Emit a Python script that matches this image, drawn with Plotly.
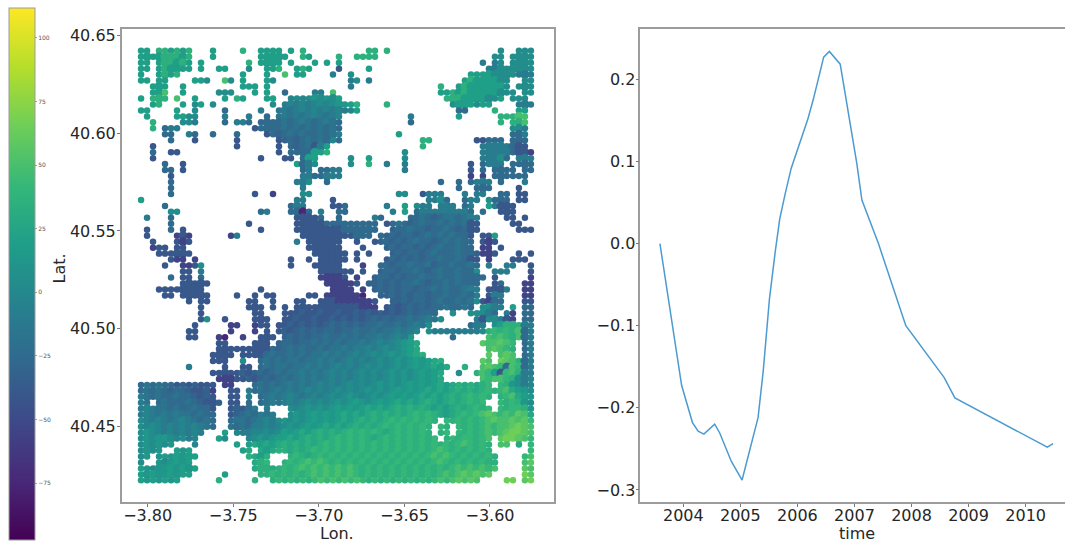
import plotly.graph_objects as go

# --- line panel -----------------------------------------------------------
time_years = [2003.59, 2003.77, 2003.97, 2004.16, 2004.26, 2004.36, 2004.55, 2004.64, 2004.84,
              2005.03, 2005.31, 2005.40, 2005.51, 2005.61, 2005.69, 2005.79, 2005.89, 2006.18,
              2006.28, 2006.46, 2006.56, 2006.75, 2007.04, 2007.13, 2007.42, 2007.90, 2008.57,
              2008.76, 2010.38, 2010.48]
signal = [0.0, -0.079, -0.1726, -0.218, -0.2286, -0.232, -0.22, -0.231, -0.265,
          -0.288, -0.212, -0.1556, -0.067, -0.0105, 0.03, 0.062, 0.0915, 0.151,
          0.176, 0.227, 0.234, 0.2185, 0.098, 0.053, 0.0, -0.1, -0.163,
          -0.188, -0.248, -0.2435]
year_ticks = [2004, 2005, 2006, 2007, 2008, 2009, 2010]
signal_ticks = [-0.3, -0.2, -0.1, 0.0, 0.1, 0.2]

# --- map panel ------------------------------------------------------------
lon_ticks = [-3.80, -3.75, -3.70, -3.65, -3.60]
lat_ticks = [40.45, 40.50, 40.55, 40.60, 40.65]
cbar_ticks = [-75, -50, -25, 0, 25, 50, 75, 100]

# Velocity classes
level_values = {"1": -75, "2": -55, "3": -40, "a": -32, "4": -25, "b": -17, "5": -10, "c": -2,
                "6": 5, "d": 12, "7": 20, "e": 27, "8": 35, "f": 42, "9": 50, "g": 57,
                "A": 65, "B": 80}

# Map read cell by cell, north to south; each entry is "column:classes of consecutive cells"
map_rows = [
"0:77 3:887878 12:7 17:8 20:7777 25:7 27:8 38:8 39:8 41:8 60:6 63:666",
"0:7 1:77 3:788878 12:7 20:7777 24:7 27:8 28:7 33:8 36:88 38:8 39:8 59:66 62:6666",
"0:77 3:788787 10:7 18:8 20:777 23:7 25:7 29:7 31:7 33:7 57:5 59:56 62:6666",
"0:77 3:78777 8:7 10:7 13:77 18:6 21:77 23:8 26:78 28:7 33:3 38:7 58:556 61:6 62:6666",
"0:7 3:787 6:8 17:7 21:7 24:9 26:77 32:5 35:6 55:7777 59:6666 63:555",
"0:7 1:7 3:77 9:77 11:6 14:9 15:6 17:7 21:7 22:6 35:56 38:5 54:78 56:7777 60:66 64:66",
"2:777 7:7 17:77 19:7 21:7 35:5 50:8 53:7877 57:7777 61:6 63:66 65:6",
"2:777 4:9 7:7 13:666 19:7 21:7 24:4 29:55 32:9 50:77 52:8787 56:7777 60:66 62:6 64:66",
"0:7 2:888 6:9 9:7 14:7 16:87 21:7 22:7 25:c6c6d6d6 33:7 51:888 54:7777 58:66 60:7 62:66 64:6",
"2:7 3:8 7:7 9:67 12:6 22:6 24:5c5c5c6 31:c6d 34:d7 36:8 41:8 52:6777 56:677 63:5 64:55",
"0:77 6:7 9:6 14:4 20:5 23:b5b5c5c5 31:c5c5c 36:7 53:44 59:8 63:77",
"1:7 6:77 8:6 9:6 14:5 18:5 21:4 23:b5b5b5c 30:5b5c 33:c 45:5 53:7 60:88 62:8 63:99",
"2:8 7:66 9:5 14:4 16:55 18:4 20:444 23:4b4b5b4 30:b5b4 45:4 60:8 62:889",
"2:8 4:4 5:55 19:3 20:444 23:4b4b4b4 30:b4b4 62:665",
"4:4 5:4 8:55 9:4 12:4 16:4 21:3 22:4 23:a4b4b4 29:4b4b5 43:7 62:445",
"5:4 9:3 16:3 23:3 24:a4a4b4 30:b4c4 47:88 56:3344 60:4 62:444",
"2:3 16:3 23:3 25:4a4b3 30:5 31:7 47:8 57:55555 62:4 63:33",
"2:4 5:33 23:3 25:4 26:444 29:778 44:6 57:55555 62:4 63:332",
"2:3 20:3 24:33 27:477 35:6 38:7 44:6 57:5556 61:4 63:5 64:55",
"4:4 7:3 26:7 27:4 28:56 35:6 38:8 41:5 44:5 55:3 57:4 58:555 62:444 65:4",
"4:4 5:4 7:3 27:4 28:5 30:445 33:5 44:5 55:3 57:4 59:4 60:44 62:4 64:44",
"5:3 27:5 28:5 29:445 32:5 33:5 55:2 57:2 59:4 60:444 63:44",
"5:4 26:55 28:6 31:4 50:4 53:4 55:4 56:555 60:4 64:5",
"5:4 27:5 53:4 56:444 63:3",
"5:4 19:3 22:2 27:6 28:6 43:66 47:3 48:555 54:5 56:55 60:44 63:3 64:3",
"0:7 26:55 32:3 48:556 51:4 54:4 55:55 58:6 59:44 61:4 63:3 64:3",
"4:4 25:455 32:33 34:4 41:5 44:7 46:6 47:55 50:55 52:5 54:4 55:5 58:75 60:333",
"5:66 20:4 21:5 25:44 27:1 28:4 30:5 33:4 34:4 42:5 44:7 46:45555 51:55 53:55 55:4 57:4 60:3 61:33",
"1:5 5:4 26:3333 30:4 33:4 39:5 40:4 45:4 46:4b4a4b 52:b4b 55:55 61:33 64:3",
"5:4 18:3 26:3333 30:344 33:444 36:444 39:4 41:3 42:4b4a 46:4b44 50:b4b4b 55:33 62:33",
"1:3 5:4 7:3 20:3 26:3333 30:3333 34:444 37:44 39:4 42:a44b 46:44a4 50:4b4a4 55:33 63:33 65:3",
"1:3 6:232 15:2 16:5 27:3333 31:33333 36:44 38:4 40:4a4a4 45:4a4b4 50:b4b44 55:3 57:3 58:37",
"2:3 6:323 26:5 28:333 31:333 36:3 39:3 40:a4a 43:4a4b4 48:4a4b4 53:b44 57:32 59:3",
"2:233 6:33 28:333 31:333 37:3 41:a4a44 46:a4a4b 51:44b44 57:22 60:3",
"3:3333 7:33 29:333 32:33 34:3 36:3 38:3 42:a4a44 47:a4b44 52:4b44a 57:223 63:3 65:3",
"5:322 9:2 25:3 28:3 30:333 33:3 34:3 36:3 41:3 42:4a4a 46:4a44 50:b44b4 55:33 58:2 62:33 64:3",
"4:3 7:223 10:6 25:3 29:3 30:33 32:33 37:2 40:4 41:4a44b44ba44b44b4 58:5 61:55 65:3",
"7:33 10:5 30:333 33:33 35:3 37:3 40:a44a44b4a4b44b44 56:6 59:55 61:5 65:3",
"5:4 7:33 10:4 30:2222 34:3 36:2 39:a44a4a44b44b44b44 56:44 59:3 65:2",
"7:333 10:3 11:3 31:22 33:222 36:3 38:aa4a4a44b4a44b4b44 56:4 59:3 60:4 64:22",
"3:333 6:3333 10:3 20:3 32:2 33:22 35:2 37:2 39:a4a4a44a44b4b44b5 56:5 58:3 59:335 64:22",
"4:33 7:33333 16:3 19:3 21:33 28:3 29:3 31:2 32:222 34:2222 37:1 40:aa4a4a44a44b44b4 56:5 58:355 64:22",
"8:3 10:33 18:33 22:3 26:33 30:333 33:2222 37:2 38:2 39:3 42:aa4a44a4b44b4b 56:6 57:3 58:2 59:44 64:33 65:3",
"10:3 18:333 22:3 24:3 26:3333 30:3333 33:3333 37:222 41:3a3a4a4a44b44b4 57:665 60:5 62:7 64:44",
"10:3 19:3 20:3 24:33 26:3a33a33a33a3a3a3a3a4a4 48:44 52:6 55:6 56:665 59:4 61:5 62:2 64:44",
"10:3 11:6 14:3 19:33 21:3 24:33a33a33a3a3a3a4a4a44b4b5b 50:6 56:5 57:3 58:66 60:5 61:3 62:2 64:44",
"9:3 15:2 16:2 19:2 20:33 23:33a3a3a3a4a4a4a44b44b4b5b 48:6 55:4 56:55 59:6788 63:88 64:55",
"8:33 15:2 19:2 21:3 23:3a3a4a4a44a44b44b4bb5b5c 48:6 49:555 52:5555 56:56 58:8 59:f8f8 63:9 64:45",
"8:33 13:21 17:2 20:333 24:a4a4a44b44b4b4bb5b5c5d 52:4 58:9 59:f9f8 63:9 64:45",
"13:33 19:333 23:a44a44b4b4b4bb5b5c5c6d7e 57:g9 59:9g9f 64:45",
"13:333 16:33 18:3333 22:4a4b4b44b4bb5b55c5c6c6d7e 58:9 59:g9f 62:8 64:45",
"12:3 13:333 17:33 19:33 21:4b44b4b4bb5b5b5c5c6c6d6d7e8 58:g 60:9g 62:9 64:45",
"12:3 13:33 17:6 20:4b4b4bb4bb5b5b5c5c5c6c6d6d7d7e8 57:g 58:9 60:Ag 62:98 64:45",
"8:5 14:3 17:33 20:4b4bb4bb5b5b5c5c5c6c6c6d6d7d7e7e 54:8 57:9g 59:9f 61:4 62:9f 64:45",
"12:3 13:33 15:33a3a4a4b4bb5b5b5c5c5c6c6c6d6d6d7d7e 53:6 56:8 57:9f 59:7 60:3 61:f9 63:85 65:5",
"13:22233a3a4a4b4b5b5b5c5c5c6c6c6d6d6d7d7e 57:9 58:f9 60:9f 62:86 64:5c",
"0:4b 2:4b44 6:3a3a 10:333 14:22 19:4b4b4b5b5b5c5c5c6c6c6d6d6d7d7d7e7e8e8e8f 60:f8 62:d6 64:5c",
"0:4b4b 4:4a44 8:a33a 12:2 15:33 18:5 19:4b4b5b5b5c5c5c6c6c6d6d6d7d7d7e7e7e8e8e8f8 60:f9 62:e7d 65:6",
"0:5b4b 4:44b4 8:4a3a 12:3 15:33 18:5 20:4b5b5c5b5c5c6c6d6c6d6d7d7d7e7e7e8e8f8f8 60:8f9 63:e7d",
"0:5b 3:4b4 6:44b4 10:a33a 15:33 18:4 20:4b 22:5b5c5c6c6c6d6d7d6d7d7e7e7e8e7e8e8f8f 60:f8 62:f8d 65:6",
"0:5c5b 4:b4b4 8:4b44 12:3 15:3a3 18:45 21:5 25:6c6d6d6d7d7d7e7e7e8e8e8e7e7e8e8f8f 60:f8f 63:f8d",
"0:5c5b 4:5b5b 8:b4b4 12:4 15:3a 17:4b4 20:5b 22:5 25:6d6d7d7d7e7e7e8e8e8e8f8f8e7e8f8f9g9 60:f9f 63:g9e",
"0:6c5c 4:5b5c 8:5b4b 12:4 15:4b 17:b4b 20:5c5 23:6d6d6d7d7d7e7e8e8e8f8f8f 47:8f 49:8 51:f8f8 55:f8f9 59:g9 61:9g9g 65:f",
"0:6c6c 4:5c5c 8:5c5b 12:4 15:b4b 18:45 20:5c5c 24:6d6d7d7e7e7e8e8e8f8f8f8f 48:8 50:f8 53:f8f8 57:f9f9 61:9gAg 65:9",
"0:6d6c 4:5c5c 8:5 9:c5 14:7 16:c5 18:5c 20:c6c6 24:7d7e7e8e8e8f8f8f8e8f8f8f 48:8 50:8f 53:f8f8 57:f9f9 61:gAAg 65:9",
"0:6d6d 4:d6c6 8:5 9:c 13:7 14:6 18:c6 20:d6d7 24:7e7e8e8e8f8f8f8e8f8f8f8f8f 51:8f8f 55:f8f9 60:gA 62:Ag 64:9f",
"0:6d6d 4:6d 9:c 16:7 18:7e 20:7e7e 24:8e8e8e8f8f8f8f8f8f8f8f8f8f8f8f9f8f8 60:9 61:9 63:e 65:f",
"0:6d6 3:d 6:7d 8:7 17:7 18:e 20:e7e8 24:8e8e8f8f8f8f8f8f8f8f8f8f8f9f8f8f8f8 65:f",
"0:6d 3:d7d 6:7d7 9:7 18:8 19:e7 21:8 25:8f8e8f8f8f8f8f8f8f8f8f8f9f9f8f8f8f8 64:f9",
"0:6 3:d6d7 7:d7 19:e8 21:f 24:8f8f9f9f8f8f8f8f8f8f8f8f8f9f8f8f8f8 59:8 64:9g",
"0:7d6d 4:d7d7 8:d7 19:e8 21:8e8f8f9f9f9f9f9f8f8f8f8f8f8f8f8f9f9f9f9 64:g9",
"0:7d7d 4:d7d7 8:7 14:7 20:8 21:8f8f8f8f9f9f9f9f8f8f8f8f8f8f8f9f9g9g9g 64:Ag",
"0:7d7d 4:7d7 13:8 19:8 22:8f8f8f8f9f9f9f9f8f8f8f8f8f8f9f9g9g9 61:AA 64:gA",
]
lon_west, lon_step = -3.8039, 0.0035047
lat_north, lat_step = 40.6422, 0.003053

cells = {}
for r, row in enumerate(map_rows):
    for seg in row.split():
        col, classes = seg.split(":")
        for k, ch in enumerate(classes):
            cells[(r, int(col) + k)] = level_values[ch]

lons, lats, vels, dots = [], [], [], []
for (r, c), v in cells.items():
    lons.append(lon_west + c * lon_step)
    lats.append(lat_north - r * lat_step)
    vels.append(v)
    # cells inside a solid patch are drawn large enough to close the gaps between dots
    inner = all((r + a, c + b) in cells for a, b in ((0, 1), (0, -1), (1, 0), (-1, 0)))
    dots.append(9 if inner else 6.5)

INK = "#262626"
EDGE = "#9c9c9c"
fig = go.Figure()
fig.add_trace(go.Scatter(
    x=lons, y=lats, mode="markers", xaxis="x", yaxis="y", showlegend=False,
    marker=dict(size=dots, opacity=1, color=vels, colorscale="Viridis", cmin=-97.4, cmax=111.8,
                line_width=0,
                colorbar=dict(x=8.5 / 1065, xanchor="left", y=1 - 5 / 542, yanchor="top",
                              thickness=26, thicknessmode="pixels", len=532, lenmode="pixels",
                              xpad=0, ypad=0, outlinecolor=EDGE, outlinewidth=1,
                              tickvals=cbar_ticks, ticks="outside", ticklen=2, tickcolor=EDGE,
                              tickfont=dict(size=6, color="#555555", family="DejaVu Sans"))),
))
fig.add_trace(go.Scatter(x=time_years, y=signal, mode="lines", xaxis="x2", yaxis="y2",
                         showlegend=False, line=dict(color="#4b9ad0", width=1.5)))

axis_common = dict(showgrid=False, zeroline=False, ticks="outside", ticklen=3, tickcolor="#777777",
                   linecolor=EDGE, linewidth=1.5, showline=True,
                   tickfont=dict(size=16, color=INK, family="DejaVu Sans"))
fig.update_layout(
    width=1065, height=542, autosize=False, paper_bgcolor="white", plot_bgcolor="white",
    margin=dict(l=0, r=0, t=0, b=0),
    font=dict(family="DejaVu Sans", color=INK),
    xaxis=dict(domain=[121.7 / 1065, 554 / 1065], range=[-3.8152, -3.5626], anchor="y",
               tickvals=lon_ticks, tickformat=".2f", mirror=True, ticklabelstandoff=-5, **axis_common),
    yaxis=dict(domain=[40 / 542, 516 / 542], range=[40.4112, 40.6534], anchor="x",
               tickvals=lat_ticks, tickformat=".2f", mirror=True, ticklabelstandoff=-2, **axis_common),
    xaxis2=dict(domain=[640.3 / 1065, 1], range=[2003.246, 2010.69], anchor="y2",
                tickvals=year_ticks, tickformat="d", mirror=True, ticklabelstandoff=-5, **axis_common),
    yaxis2=dict(domain=[40 / 542, 516 / 542], range=[-0.315, 0.2615], anchor="x2",
                tickvals=signal_ticks, tickformat=".1f", ticklabelstandoff=-3, **axis_common),
    annotations=[
        dict(text="Lat.", x=60 / 1065, y=1 - 267 / 542, xref="paper", yref="paper", textangle=-90,
             xanchor="center", yanchor="middle", showarrow=False, font=dict(size=16)),
        dict(text="Lon.", x=337 / 1065, y=1 - 533 / 542, xref="paper", yref="paper",
             xanchor="center", yanchor="middle", showarrow=False, font=dict(size=16)),
        dict(text="time", x=856.7 / 1065, y=1 - 533 / 542, xref="paper", yref="paper",
             xanchor="center", yanchor="middle", showarrow=False, font=dict(size=16)),
    ],
)
fig.write_html("out.html", post_script="document.body.style.margin='0';",
               config={"displayModeBar": False})
